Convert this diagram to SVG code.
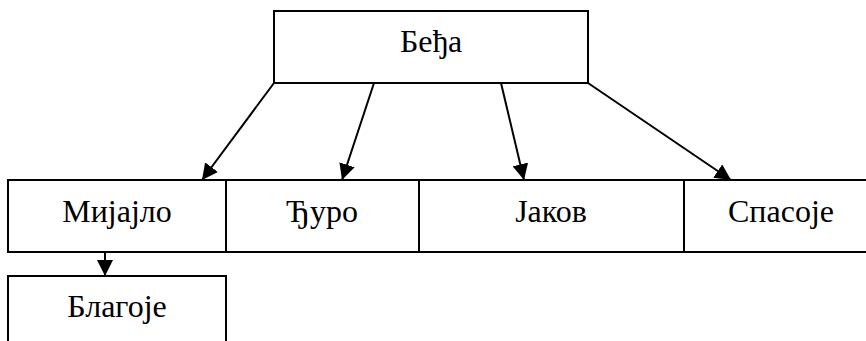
<svg xmlns="http://www.w3.org/2000/svg" width="866" height="341" viewBox="0 0 866 341">
<style>
.box{fill:#fff;stroke:#000;stroke-width:2}
.lbl{font-family:'Liberation Serif','Times New Roman',serif;font-size:32px;fill:#000;text-anchor:middle}
.con{stroke:#000;stroke-width:2;fill:none;marker-end:url(#ah)}
</style>
<defs>
<marker id="ah" markerUnits="userSpaceOnUse" markerWidth="16" markerHeight="16" viewBox="0 0 16 16" refX="16" refY="8" orient="auto">
<path d="M0,0 L16,8 L0,16 Z" fill="#000"/>
</marker>
</defs>
<g id="node-beda"><rect class="box" x="274" y="11" width="314" height="72"/><text class="lbl" x="431" y="52">Беђа</text></g>
<g id="node-mijajlo"><rect class="box" x="8" y="180" width="218" height="72"/><text class="lbl" x="117" y="222">Мијајло</text></g>
<g id="node-djuro"><rect class="box" x="226" y="180" width="193" height="72"/><text class="lbl" x="322" y="222">Ђуро</text></g>
<g id="node-jakov"><rect class="box" x="419" y="180" width="265" height="72"/><text class="lbl" x="551" y="222">Јаков</text></g>
<g id="node-spasoje"><path class="box" d="M870,180 H684 V252 H870"/><text class="lbl" x="781" y="222">Спасоје</text></g>
<g id="node-blagoje"><path class="box" d="M8,345 V276 H226 V345"/><text class="lbl" x="117" y="317">Благоје</text></g>
<g id="connectors">
<line class="con" x1="274" y1="83" x2="202" y2="180"/>
<line class="con" x1="374" y1="83" x2="342" y2="180"/>
<line class="con" x1="501" y1="83" x2="524" y2="180"/>
<line class="con" x1="588" y1="83" x2="731" y2="180"/>
<line class="con" x1="105" y1="252" x2="105" y2="276"/>
</g>
</svg>
